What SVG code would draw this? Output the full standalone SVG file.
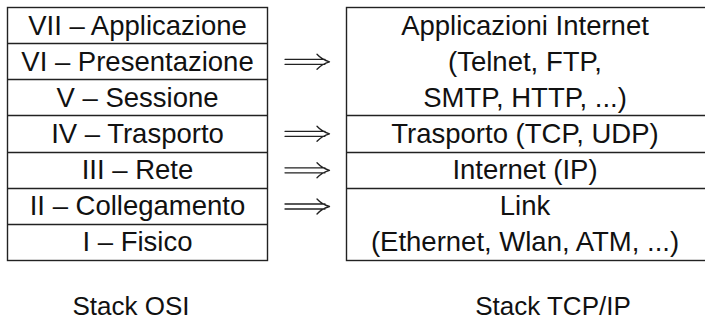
<svg xmlns="http://www.w3.org/2000/svg" width="705" height="321" viewBox="0 0 705 321">
<style>
  .box { fill: #ffffff; stroke: #222222; stroke-width: 1.4; }
  .sep { stroke: #222222; stroke-width: 1.4; }
  .t { font-family: "Liberation Sans", Arial, sans-serif; font-size: 27.5px; fill: #111111; text-anchor: middle; }
  .lbl { font-family: "Liberation Sans", Arial, sans-serif; font-size: 26px; fill: #111111; text-anchor: middle; }
  .arr { fill: none; stroke: #222222; stroke-width: 1.3; stroke-linecap: round; stroke-linejoin: round; }
</style>
<rect width="705" height="321" fill="#ffffff"/>
<g id="osi-stack">
  <rect class="box" x="7.5" y="7.5" width="260" height="253"/>
  <line class="sep" x1="7.5" y1="43.5" x2="267.5" y2="43.5"/>
  <line class="sep" x1="7.5" y1="79.5" x2="267.5" y2="79.5"/>
  <line class="sep" x1="7.5" y1="115.5" x2="267.5" y2="115.5"/>
  <line class="sep" x1="7.5" y1="152.5" x2="267.5" y2="152.5"/>
  <line class="sep" x1="7.5" y1="188.5" x2="267.5" y2="188.5"/>
  <line class="sep" x1="7.5" y1="224.5" x2="267.5" y2="224.5"/>
  <text class="t" x="137.5" y="35">VII – Applicazione</text>
  <text class="t" x="137.5" y="71">VI – Presentazione</text>
  <text class="t" x="137.5" y="107">V – Sessione</text>
  <text class="t" x="137.5" y="143">IV – Trasporto</text>
  <text class="t" x="137.5" y="179">III – Rete</text>
  <text class="t" x="137.5" y="215">II – Collegamento</text>
  <text class="t" x="137.5" y="251">I – Fisico</text>
</g>
<g id="tcpip-stack">
  <rect class="box" x="346.5" y="7.5" width="362" height="253"/>
  <line class="sep" x1="346.5" y1="115.5" x2="706" y2="115.5"/>
  <line class="sep" x1="346.5" y1="152.5" x2="706" y2="152.5"/>
  <line class="sep" x1="346.5" y1="188.5" x2="706" y2="188.5"/>
  <text class="t" x="525" y="35">Applicazioni Internet</text>
  <text class="t" x="525" y="71">(Telnet, FTP,</text>
  <text class="t" x="525" y="107">SMTP, HTTP, ...)</text>
  <text class="t" x="525" y="143">Trasporto (TCP, UDP)</text>
  <text class="t" x="525" y="179">Internet (IP)</text>
  <text class="t" x="525" y="215">Link</text>
  <text class="t" x="525" y="251">(Ethernet, Wlan, ATM, ...)</text>
</g>
<g id="connectors">
  <g transform="translate(0,61.8)">
    <path class="arr" d="M285 -2.5 H325 M285 2.5 H325 M317 -7.5 Q322 -2 329.5 0 Q322 2 317 7.5"/>
  </g>
  <g transform="translate(0,133.8)">
    <path class="arr" d="M285 -2.5 H325 M285 2.5 H325 M317 -7.5 Q322 -2 329.5 0 Q322 2 317 7.5"/>
  </g>
  <g transform="translate(0,170.3)">
    <path class="arr" d="M285 -2.5 H325 M285 2.5 H325 M317 -7.5 Q322 -2 329.5 0 Q322 2 317 7.5"/>
  </g>
  <g transform="translate(0,206.5)">
    <path class="arr" d="M285 -2.5 H325 M285 2.5 H325 M317 -7.5 Q322 -2 329.5 0 Q322 2 317 7.5"/>
  </g>
</g>
<g id="labels">
  <text class="lbl" x="131" y="315">Stack OSI</text>
  <text class="lbl" x="553" y="315">Stack TCP/IP</text>
</g>
</svg>
